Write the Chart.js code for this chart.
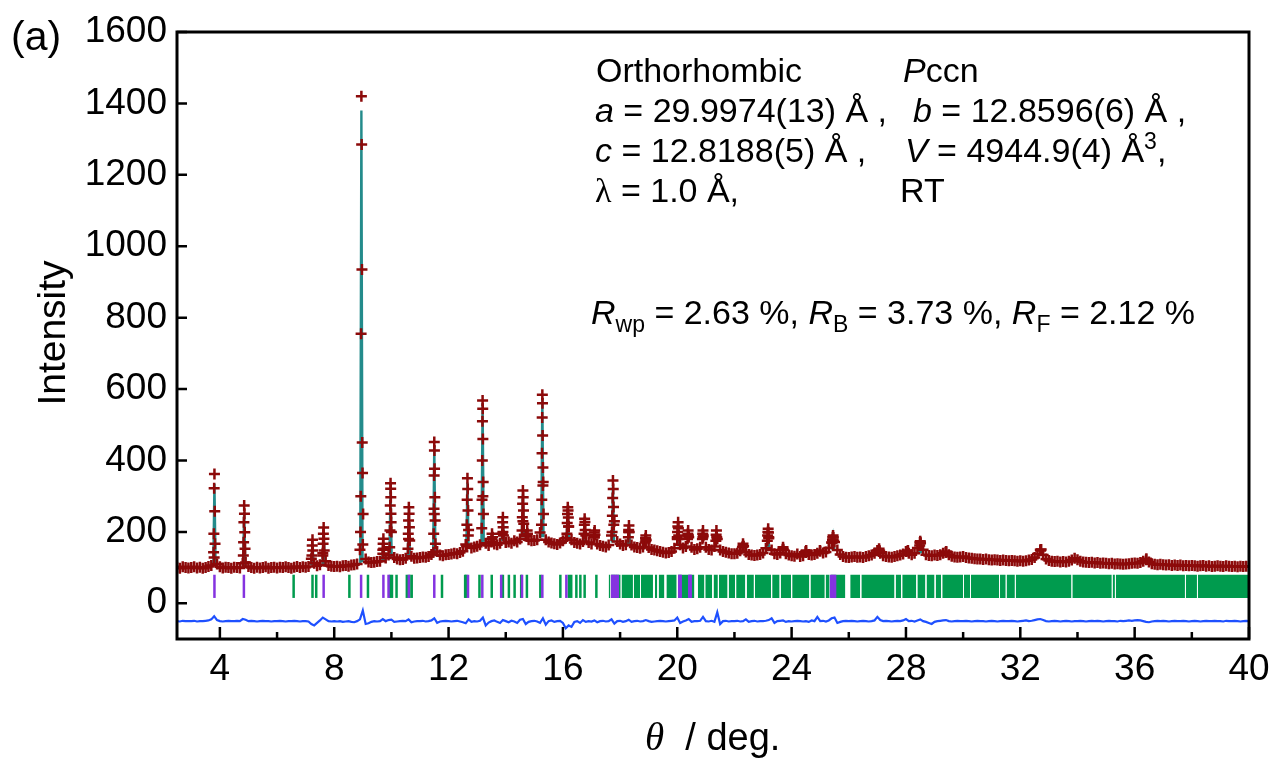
<!DOCTYPE html>
<html><head><meta charset="utf-8">
<script src="https://cdn.jsdelivr.net/npm/chart.js@4.4.0/dist/chart.umd.min.js"></script>
<style>html,body{margin:0;padding:0;background:#fff}canvas{display:block}</style>
</head><body>
<canvas id="c" width="1274" height="762"></canvas>
<script>
// ---------------- data ----------------
const thetaGrid = [2.5,2.6,2.7,2.8,2.9,
3,3.1,3.2,3.3,3.4,3.5,3.6,3.7,3.8,3.9,
4,4.1,4.2,4.3,4.4,4.5,4.6,4.7,4.8,4.9,
5,5.1,5.2,5.3,5.4,5.5,5.6,5.7,5.8,5.9,
6,6.1,6.2,6.3,6.4,6.5,6.6,6.7,6.8,6.9,
7,7.1,7.2,7.3,7.4,7.5,7.6,7.7,7.8,7.9,
8,8.1,8.2,8.3,8.4,8.5,8.6,8.7,8.8,8.9,
9,9.1,9.2,9.3,9.4,9.5,9.6,9.7,9.8,9.9,
10,10.1,10.2,10.3,10.4,10.5,10.6,10.7,10.8,10.9,
11,11.1,11.2,11.3,11.4,11.5,11.6,11.7,11.8,11.9,
12,12.1,12.2,12.3,12.4,12.5,12.6,12.7,12.8,12.9,
13,13.1,13.2,13.3,13.4,13.5,13.6,13.7,13.8,13.9,
14,14.1,14.2,14.3,14.4,14.5,14.6,14.7,14.8,14.9,
15,15.1,15.2,15.3,15.4,15.5,15.6,15.7,15.8,15.9,
16,16.1,16.2,16.3,16.4,16.5,16.6,16.7,16.8,16.9,
17,17.1,17.2,17.3,17.4,17.5,17.6,17.7,17.8,17.9,
18,18.1,18.2,18.3,18.4,18.5,18.6,18.7,18.8,18.9,
19,19.1,19.2,19.3,19.4,19.5,19.6,19.7,19.8,19.9,
20,20.1,20.2,20.3,20.4,20.5,20.6,20.7,20.8,20.9,
21,21.1,21.2,21.3,21.4,21.5,21.6,21.7,21.8,21.9,
22,22.1,22.2,22.3,22.4,22.5,22.6,22.7,22.8,22.9,
23,23.1,23.2,23.3,23.4,23.5,23.6,23.7,23.8,23.9,
24,24.1,24.2,24.3,24.4,24.5,24.6,24.7,24.8,24.9,
25,25.1,25.2,25.3,25.4,25.5,25.6,25.7,25.8,25.9,
26,26.1,26.2,26.3,26.4,26.5,26.6,26.7,26.8,26.9,
27,27.1,27.2,27.3,27.4,27.5,27.6,27.7,27.8,27.9,
28,28.1,28.2,28.3,28.4,28.5,28.6,28.7,28.8,28.9,
29,29.1,29.2,29.3,29.4,29.5,29.6,29.7,29.8,29.9,
30,30.1,30.2,30.3,30.4,30.5,30.6,30.7,30.8,30.9,
31,31.1,31.2,31.3,31.4,31.5,31.6,31.7,31.8,31.9,
32,32.1,32.2,32.3,32.4,32.5,32.6,32.7,32.8,32.9,
33,33.1,33.2,33.3,33.4,33.5,33.6,33.7,33.8,33.9,
34,34.1,34.2,34.3,34.4,34.5,34.6,34.7,34.8,34.9,
35,35.1,35.2,35.3,35.4,35.5,35.6,35.7,35.8,35.9,
36,36.1,36.2,36.3,36.4,36.5,36.6,36.7,36.8,36.9,
37,37.1,37.2,37.3,37.4,37.5,37.6,37.7,37.8,37.9,
38,38.1,38.2,38.3,38.4,38.5,38.6,38.7,38.8,38.9,
39,39.1,39.2,39.3,39.4,39.5,39.6,39.7,39.8,39.9,
40];

// observed intensity on the grid
const obsGrid = [101,98,102,100,99,
100,102,99,101,98,100,103,106,128,110,
102,99,101,100,98,101,100,99,112,114,
103,100,98,101,99,100,102,98,100,101,
99,101,100,102,100,98,101,103,100,102,
101,103,125,112,105,108,140,118,106,104,
103,104,102,105,106,104,107,108,110,150,
165,124,116,114,115,117,118,150,127,135,
200,128,124,122,123,126,180,132,126,127,
128,130,129,131,137,250,145,135,133,136,
137,138,140,139,142,146,165,205,155,158,
160,164,300,168,162,172,166,164,168,200,
170,172,168,175,172,180,230,188,178,175,
176,178,198,330,178,172,169,167,165,169,
175,182,215,178,170,168,166,173,190,170,
166,185,166,162,160,158,163,190,230,173,
166,162,164,200,163,158,156,154,158,175,
156,151,149,147,145,143,141,142,145,154,
185,164,155,159,185,157,151,153,157,185,
157,151,149,159,180,149,145,143,141,139,
139,140,147,160,144,137,135,134,135,137,
141,154,185,149,139,137,141,152,139,135,
133,132,138,131,133,142,137,135,137,140,
146,141,144,155,170,172,149,137,131,129,
128,130,131,129,130,128,131,133,135,140,
148,140,133,131,130,129,131,133,135,138,
145,140,136,140,155,170,150,136,134,133,
135,134,136,140,143,136,132,130,129,130,
131,128,127,126,125,124,124,123,124,122,
121,122,121,120,121,120,119,120,119,118,
119,118,119,121,123,128,138,150,135,124,
120,118,117,118,116,117,116,118,121,126,
122,118,116,115,114,115,113,114,112,113,
112,111,112,110,111,110,109,110,111,112,
113,112,114,118,122,116,111,109,108,109,
108,107,108,106,107,106,107,105,106,105,
106,105,104,105,106,104,105,103,104,105,
104,103,105,104,103,104,102,104,103,104,
103];

// difference curve (obs - calc, shifted) on the grid
const diffGrid = [-50,-51,-49,-50,-50,
-50,-49,-51,-50,-50,-49,-48,-45,-36,-47,
-50,-51,-50,-49,-50,-50,-49,-50,-44,-46,
-50,-49,-50,-51,-50,-49,-50,-50,-51,-50,
-50,-49,-50,-51,-50,-50,-49,-50,-51,-50,
-50,-51,-58,-62,-55,-48,-40,-45,-50,-51,
-50,-51,-50,-52,-51,-50,-52,-53,-50,-45,
-20,-58,-56,-52,-50,-51,-50,-44,-50,-47,
-46,-52,-51,-50,-49,-50,-45,-53,-51,-50,
-50,-49,-51,-50,-48,-42,-55,-51,-50,-49,
-50,-51,-50,-49,-51,-53,-56,-45,-52,-50,
-51,-49,-40,-62,-54,-50,-48,-52,-55,-47,
-50,-53,-49,-51,-55,-46,-44,-58,-52,-50,
-49,-51,-55,-42,-60,-50,-48,-52,-50,-49,
-55,-70,-62,-66,-52,-50,-55,-47,-52,-50,
-51,-48,-53,-50,-49,-51,-50,-45,-57,-50,
-49,-52,-50,-46,-52,-50,-49,-51,-50,-47,
-50,-52,-51,-50,-49,-50,-51,-50,-49,-48,
-40,-55,-51,-48,-44,-52,-50,-50,-49,-38,
-50,-51,-49,-52,-25,-58,-50,-49,-51,-50,
-50,-49,-51,-50,-45,-52,-50,-49,-51,-50,
-50,-49,-47,-42,-55,-50,-49,-48,-52,-50,
-51,-50,-49,-50,-51,-50,-52,-48,-50,-38,
-50,-49,-51,-48,-42,-40,-55,-52,-50,-49,
-50,-49,-50,-51,-50,-49,-50,-51,-50,-48,
-38,-47,-50,-49,-50,-51,-50,-49,-50,-48,
-44,-50,-49,-51,-48,-45,-50,-52,-55,-58,
-52,-50,-49,-48,-47,-50,-51,-50,-49,-50,
-50,-49,-50,-51,-50,-49,-50,-50,-51,-50,
-49,-50,-51,-50,-49,-50,-50,-49,-50,-51,
-50,-49,-48,-50,-49,-47,-45,-44,-47,-50,
-51,-50,-49,-50,-51,-50,-49,-50,-51,-50,
-50,-49,-50,-51,-50,-49,-50,-49,-50,-51,
-50,-49,-50,-50,-51,-49,-50,-49,-48,-49,
-48,-47,-48,-50,-52,-53,-51,-50,-49,-50,
-49,-50,-51,-50,-49,-50,-50,-49,-50,-51,
-50,-49,-50,-51,-50,-49,-50,-50,-49,-50,
-50,-51,-49,-50,-50,-49,-50,-51,-50,-49,
-50];

// observed points on the Bragg peaks
const obsPeakTheta = [3.78,3.79,3.80,3.81,3.82,3.83,
4.82,4.83,4.84,4.85,4.86,4.87,4.88,
7.22,7.23,7.24,7.25,
7.60,7.61,7.62,7.63,7.64,7.65,
8.92,8.93,8.94,8.95,8.96,8.97,8.98,8.99,9.01,
9.70,9.71,9.72,9.73,
9.94,9.95,9.96,9.97,9.975,9.98,9.985,9.99,
10.58,10.59,10.60,10.61,10.62,10.63,10.64,
11.47,11.48,11.49,11.495,11.50,11.505,11.51,11.52,11.53,11.54,
12.63,12.64,12.65,12.66,12.67,12.68,12.69,
13.16,13.17,13.18,13.185,13.19,13.195,13.20,13.21,13.22,
13.50,13.52,13.54,
13.88,13.89,13.90,13.91,13.92,
14.57,14.58,14.59,14.60,14.61,14.62,14.63,
14.74,14.75,14.76,
15.25,15.26,15.27,15.275,15.28,15.285,15.29,15.30,15.31,15.32,
16.14,16.15,16.16,16.17,16.18,16.19,16.20,
16.74,16.75,16.76,16.77,16.78,
17.09,17.10,17.11,17.12,
17.72,17.73,17.74,17.75,17.76,17.77,17.78,
18.29,18.30,18.31,18.32,
18.88,18.89,18.90,18.91,
20.00,20.01,20.02,20.03,20.04,20.05,
20.36,20.37,20.38,20.39,
20.88,20.89,20.90,20.91,
21.35,21.36,21.37,21.38,
22.28,22.30,22.32,
23.15,23.16,23.17,23.18,23.19,23.20,
23.69,23.70,23.71,
24.49,24.51,24.99,
25.42,25.43,25.44,25.45,25.46,25.47,
27.04,27.06,27.08,
28.05,28.07,
28.48,28.49,28.50,28.51,
29.39,29.41,
32.71,32.73,
36.41];
const obsPeakI = [143,195,322,362,258,167,
134,171,227,274,251,199,153,
134,162,178,148,
134,167,195,212,181,148,
200,300,755,1420,1285,935,450,365,250,
139,167,181,153,
157,204,274,336,321,297,251,227,
153,195,232,269,251,213,176,
143,195,265,358,452,428,377,297,232,167,
160,220,290,350,320,260,190,
210,290,400,510,568,545,460,340,250,
180,195,185,
195,227,241,213,190,
204,241,279,316,297,260,223,
190,204,195,
220,290,420,520,584,560,470,380,340,250,
195,225,250,269,260,240,215,
195,220,237,228,205,
185,198,204,192,
200,245,295,344,320,270,220,
185,205,218,200,
170,182,190,178,
180,200,215,227,210,190,
180,195,204,190,
180,195,204,190,
175,192,204,185,
158,167,160,
175,190,200,209,198,182,
150,157,150,
145,148,148,
170,178,185,190,184,176,
148,153,147,
146,148,
162,170,174,168,
143,145,
148,151,
125];

// calculated profile at the peaks (null = break)
const calcTheta = [3.77,3.81,3.85,3.85, 4.81,4.85,4.89,4.89, 7.20,7.24,7.28,7.28, 7.59,7.63,7.67,7.67,
8.91,8.95,8.99,8.99, 9.68,9.72,9.76,9.76, 9.93,9.97,10.01,10.01, 10.57,10.61,10.65,10.65,
11.46,11.50,11.54,11.54, 12.62,12.66,12.70,12.70, 13.15,13.19,13.23,13.23, 13.86,13.90,13.94,13.94,
14.56,14.60,14.64,14.64, 15.24,15.28,15.32,15.32, 16.13,16.17,16.21,16.21, 16.72,16.76,16.80,16.80,
17.71,17.75,17.79,17.79, 18.27,18.31,18.35,18.35, 19.99,20.03,20.07,20.07, 23.14,23.18,23.22,23.22,
25.41,25.45,25.49,25.49, 28.46,28.50,28.54];
const calcI = [105,335,105,null, 103,255,103,null, 106,165,106,null, 108,200,108,null,
112,1380,115,null, 120,170,120,null, 125,322,126,null, 128,255,128,null,
135,440,135,null, 150,338,152,null, 170,560,172,null, 175,230,175,null,
185,305,185,null, 185,575,185,null, 180,255,180,null, 175,225,175,null,
170,330,170,null, 165,210,165,null, 160,215,160,null, 150,200,150,null,
150,180,150,null, 140,165,140];

// Bragg reflection positions
const phase1Ticks = [6.58,7.24,7.37,8.53,9.18,9.95,10.02,10.18,10.54,10.63,10.71,11.77,12.58,12.62,13.08,13.51,13.90,14.11,14.31,14.54,14.74,15.21,15.91,16.21,16.29,16.47,16.61,16.76,17.17];
const phase1BandStart = [17.60,17.68,18.05,18.48,18.73,19.22,19.35,19.62,20.02,20.72,20.98,21.27,21.46,21.80,22.06,22.43,22.72,23.32,23.62,24.02,24.66,25.19,25.36,26.05,26.44,27.64,27.87,28.40,28.72,29.04,29.27,30.03,30.27,31.29,31.52,31.84,33.82,35.23,35.34,37.79,38.21];
const phase1BandEnd = [17.66,18.02,18.45,18.70,19.15,19.30,19.55,19.98,20.60,20.95,21.22,21.42,21.76,22.02,22.38,22.68,23.28,23.58,23.98,24.62,25.16,25.33,25.88,26.40,27.60,27.83,28.36,28.68,29.00,29.23,30.00,30.24,31.26,31.49,31.81,33.79,35.20,35.31,37.76,38.18,40.0];
const phase2Ticks = [3.81,4.84,7.63,8.94,9.72,9.90,10.61,11.50,12.68,13.18,13.84,14.57,15.28,16.12,17.72,17.78,17.85,17.92,20.07,20.12,20.42,20.47,25.38,25.45,25.52];
const braggLow = 15, braggHigh = 80;

// axis ticks
const xTickValues = [4,8,12,16,20,24,28,32,36,40];
const xMinorTicks = [6,10,14,18,22,26,30,34,38];
const yTickValues = [0,200,400,600,800,1000,1200,1400,1600];

// ---------------- build ----------------
const SANS = '"Liberation Sans", Arial, sans-serif';
const SERIF = '"Liberation Serif", "Times New Roman", serif';
const C_OBS = '#8c0a0a', C_CALC = '#238b8b', C_DIFF = '#1e50ff', C_G = '#009b4e', C_P = '#8533e0';

const obsPoints = thetaGrid.map((t, i) => ({x: t, y: obsGrid[i]}))
  .concat(obsPeakTheta.map((t, i) => ({x: t, y: obsPeakI[i]})));
const diffPoints = thetaGrid.map((t, i) => ({x: t, y: diffGrid[i]}));
const calcPoints = calcTheta.map((t, i) => ({x: t, y: calcI[i]}));
const braggMid = (braggLow + braggHigh) / 2;
const g1Points = phase1Ticks.map(t => ({x: t, y: braggMid}));
const g2Points = phase2Ticks.map(t => ({x: t, y: braggMid}));
const bandPoints = [];
phase1BandStart.forEach((s, i) => {
  bandPoints.push({x: s, y: braggHigh}, {x: phase1BandEnd[i], y: braggHigh}, {x: phase1BandEnd[i], y: null});
});
const tickRadius = ctx => {
  const y = ctx.chart.scales.y;
  return Math.abs(y.getPixelForValue(braggLow) - y.getPixelForValue(braggHigh)) / 2;
};

function runText(ctx, x, y, runs) {
  for (const r of runs) {
    ctx.font = r.f;
    ctx.fillText(r.t, x, y + (r.dy || 0));
    x += ctx.measureText(r.t).width;
  }
}

const decor = {
  id: 'decor',
  afterDraw(chart) {
    const {ctx, chartArea: a, scales: {x, y}} = chart;
    ctx.save();
    ctx.strokeStyle = '#000';
    ctx.lineWidth = 2.5;
    ctx.beginPath();
    xTickValues.forEach(v => { const p = x.getPixelForValue(v); ctx.moveTo(p, a.bottom); ctx.lineTo(p, a.bottom - 12); });
    xMinorTicks.forEach(v => { const p = x.getPixelForValue(v); ctx.moveTo(p, a.bottom); ctx.lineTo(p, a.bottom - 7); });
    yTickValues.forEach(v => { const p = y.getPixelForValue(v); ctx.moveTo(a.left, p); ctx.lineTo(a.left + 10, p); });
    ctx.stroke();
    ctx.lineWidth = 3;
    ctx.strokeRect(a.left, a.top, a.right - a.left, a.bottom - a.top);

    ctx.fillStyle = '#000';
    ctx.textAlign = 'left';
    ctx.textBaseline = 'alphabetic';
    const N = '34px ' + SANS, I = 'italic 34px ' + SANS, S = '23px ' + SANS;
    runText(ctx, 11, 50, [{t: '(a)', f: '41px ' + SANS}]);
    runText(ctx, 596, 82, [{t: 'Orthorhombic', f: N}]);
    runText(ctx, 903, 82, [{t: 'P', f: I}, {t: 'ccn', f: N}]);
    runText(ctx, 595, 122, [{t: 'a', f: I}, {t: ' = 29.9974(13) Å ,', f: N}]);
    runText(ctx, 913, 122, [{t: 'b', f: I}, {t: ' = 12.8596(6) Å ,', f: N}]);
    runText(ctx, 595, 162, [{t: 'c', f: I}, {t: ' = 12.8188(5) Å ,', f: N}]);
    runText(ctx, 905, 162, [{t: 'V', f: I}, {t: ' = 4944.9(4) Å', f: N}, {t: '3', f: S, dy: -13}, {t: ',', f: N}]);
    runText(ctx, 595, 202, [{t: 'λ', f: '34px ' + SERIF}, {t: ' = 1.0 Å,', f: N}]);
    runText(ctx, 900, 202, [{t: 'RT', f: N}]);
    runText(ctx, 591, 324, [
      {t: 'R', f: I}, {t: 'wp', f: S, dy: 8}, {t: ' = 2.63 %, ', f: N},
      {t: 'R', f: I}, {t: 'B', f: S, dy: 8}, {t: ' = 3.73 %, ', f: N},
      {t: 'R', f: I}, {t: 'F', f: S, dy: 8}, {t: ' = 2.12 %', f: N}]);
    // axis titles
    runText(ctx, 645, 750, [{t: 'θ', f: 'italic 39px ' + SERIF}, {t: '  / deg.', f: '38px ' + SANS}]);
    ctx.translate(65, 333);
    ctx.rotate(-Math.PI / 2);
    ctx.textAlign = 'center';
    ctx.font = '39px ' + SANS;
    ctx.fillText('Intensity', 0, 0);
    ctx.restore();
  }
};

new Chart(document.getElementById('c'), {
  type: 'scatter',
  data: {
    datasets: [
      {label: 'obs', type: 'scatter', data: obsPoints, pointStyle: 'cross', pointRadius: 5.5,
       pointBorderWidth: 2.5, borderColor: C_OBS, backgroundColor: C_OBS, order: 0},
      {label: 'calc', type: 'line', data: calcPoints, borderColor: C_CALC, borderWidth: 2.4,
       pointRadius: 0, spanGaps: false, fill: false, order: 1},
      {label: 'diff', type: 'line', data: diffPoints, borderColor: C_DIFF, borderWidth: 2.2,
       pointRadius: 0, fill: false, order: 2},
      {label: 'phase2', type: 'scatter', data: g2Points, pointStyle: 'line', rotation: 90,
       pointRadius: tickRadius, pointBorderWidth: 2.5, borderColor: C_P, backgroundColor: C_P, order: 3},
      {label: 'phase1', type: 'scatter', data: g1Points, pointStyle: 'line', rotation: 90,
       pointRadius: tickRadius, pointBorderWidth: 2.5, borderColor: C_G, backgroundColor: C_G, order: 4},
      {label: 'phase1 dense', type: 'line', data: bandPoints, borderWidth: 0, borderColor: 'rgba(0,0,0,0)',
       backgroundColor: C_G, pointRadius: 0, spanGaps: false, fill: {value: braggLow}, order: 5}
    ]
  },
  options: {
    responsive: false,
    animation: false,
    events: [],
    layout: {padding: {left: 0, right: 25, top: 32, bottom: 0}},
    plugins: {legend: {display: false}, tooltip: {enabled: false}},
    scales: {
      x: {
        type: 'linear', min: 2.5, max: 40,
        grid: {display: false, drawTicks: false}, border: {display: false},
        ticks: {color: '#000', font: {family: SANS, size: 37}, padding: 9, maxRotation: 0, autoSkip: false,
                callback: v => String(v)},
        afterBuildTicks: s => { s.ticks = xTickValues.map(v => ({value: v})); },
        afterFit: s => { s.height = 123; s.paddingLeft = 0; s.paddingRight = 0; }
      },
      y: {
        type: 'linear', min: -100, max: 1600,
        grid: {display: false, drawTicks: false}, border: {display: false},
        ticks: {color: '#000', font: {family: SANS, size: 37}, padding: 10, callback: v => String(v)},
        afterBuildTicks: s => { s.ticks = yTickValues.map(v => ({value: v})); },
        afterFit: s => { s.width = 177; s.paddingTop = 0; s.paddingBottom = 0; }
      }
    }
  },
  plugins: [decor]
});
</script>
</body></html>
